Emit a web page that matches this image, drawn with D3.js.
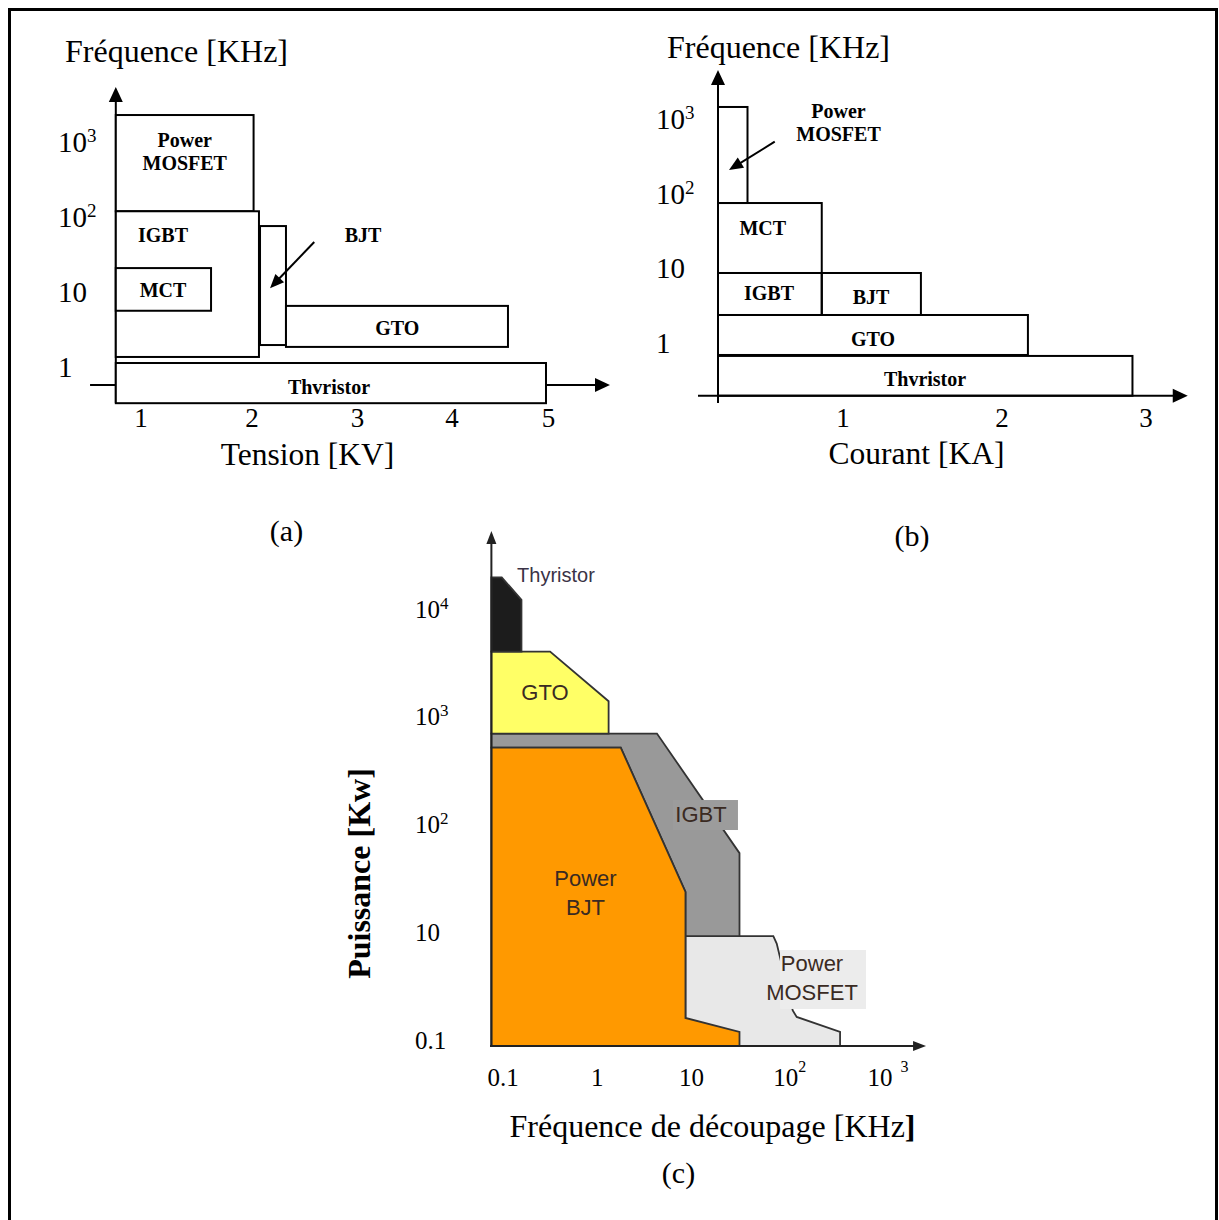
<!DOCTYPE html>
<html><head><meta charset="utf-8">
<script src="https://cdn.jsdelivr.net/npm/d3@7"></script>
<style>body{margin:0;background:#fff}svg{display:block}</style>
</head><body>
<script>
// ================= DATA =================
// (a) Fréquence [KHz] vs Tension [KV]
const aDevices      = ["Power MOSFET","IGBT","MCT","BJT","GTO","Thvristor"];
const aTensionMin   = [0.773,0.773,0.773,2.076,2.322,0.773];
const aTensionMax   = [2.015,2.066,1.631,2.322,4.58,4.974];
const aFreqMin      = [118,1.36,5.6,1.96,1.85,0.33];
const aFreqMax      = [2250,118,20.7,75,6.5,1.13];
const aLabelTension = [1.394,1.198,1.198,3.059,3.42,2.73];
const aLabelFreq    = [736,57,10.6,57,3.3,0.54];
const aXTicks       = [1,2,3,4,5];
const aYTicks       = [1,10,100,1000];
const aYTickLabels  = [["1",""],["10",""],["10","2"],["10","3"]];
const aArrow        = {from:[2.59,46], to:[2.171,11.2]};   // BJT pointer (tension, freq)

// (b) Fréquence [KHz] vs Courant [KA]
const bDevices      = ["Power MOSFET","MCT","IGBT","BJT","GTO","Thvristor"];
const bCourantMin   = [0,0,0,0.83,0,0];
const bCourantMax   = [0.236,0.83,0.83,1.49,2.18,2.906];
const bFreqMin      = [74.5,8.57,2.34,2.34,0.68,0.193];
const bFreqMax      = [1450,74.5,8.57,8.57,2.34,0.66];
const bLabelCourant = [0.964,0.358,0.408,1.176,1.189,1.516];
const bLabelFreq    = [898,34.4,4.62,4.08,1.11,0.324];
const bXTicks       = [1,2,3];
const bYTicks       = [1,10,100,1000];
const bYTickLabels  = [["1",""],["10",""],["10","2"],["10","3"]];
const bArrow        = {from:[0.454,496], to:[0.088,207]};  // MOSFET pointer (courant, freq)

// (c) Puissance [Kw] (label levels) vs Fréquence de découpage [KHz]
const cDevices = ["Power MOSFET","IGBT","Power BJT","GTO","Thyristor"];
const cFreq = [
  [8.63,73.8,80.2,118.6,130.7,377,377,8.63],
  [0.0753,4.30,32.3,32.3,8.63,8.63,1.775,0.0753],
  [0.0753,1.775,8.63,8.63,32.3,32.3,0.0753],
  [0.0753,0.316,1.32,1.32,0.0753],
  [0.0753,0.097,0.157,0.157,0.0753]
];
const cLevel = [
  [1.02,1.02,0.95,0.33,0.27,0.13,0,0],
  [2.90,2.90,1.79,1.02,1.02,1.43,2.77,2.77],
  [2.77,2.77,1.43,0.26,0.13,0,0],
  [3.66,3.66,3.20,2.90,2.90],
  [4.35,4.35,4.14,3.66,3.66]
];
const cLabelFreq  = [190,12.6,0.75,0.279,0.141];
const cLabelLevel = [0.636,2.153,1.42,3.285,4.37];
const cXTicks      = [0.1,1,10,100,1000];
const cXTickLabels = [["0.1",""],["1",""],["10",""],["10","2"],["10","\u00a0\u00a03"]];
const cYLevels     = [0,1,2,3,4];
const cYTickLabels = [["0.1",""],["10",""],["10","2"],["10","3"],["10","4"]];

// ================= STYLE =================
const serif = "'Liberation Serif','Times New Roman',Times,serif";
const sans  = "'Liberation Sans',Arial,Helvetica,sans-serif";
const cFill = {"Thyristor":"#1c1c1c","GTO":"#ffff66","IGBT":"#999999","Power BJT":"#ff9900","Power MOSFET":"#e8e8e8"};

const svg = d3.select("body").append("svg").attr("width",1219).attr("height",1220);
svg.append("rect").attr("width",1219).attr("height",1220).attr("fill","#fff");
svg.append("rect").attr("x",9.5).attr("y",9.5).attr("width",1207).attr("height",1240)
  .attr("fill","none").attr("stroke","#000").attr("stroke-width",3);

function arrowHead(g,x1,y1,x2,y2,len,hw,color){
  const dx=x2-x1, dy=y2-y1, L=Math.hypot(dx,dy), ux=dx/L, uy=dy/L;
  const bx=x2-ux*len, by=y2-uy*len;
  g.append("path").attr("d",`M${x2},${y2}L${bx-uy*hw},${by+ux*hw}L${bx+uy*hw},${by-ux*hw}Z`)
    .attr("fill",color||"#000");
}
function arrowLine(g,x1,y1,x2,y2,len,hw,w,color){
  const dx=x2-x1, dy=y2-y1, L=Math.hypot(dx,dy);
  g.append("line").attr("x1",x1).attr("y1",y1)
    .attr("x2",x2-dx/L*(len*0.8)).attr("y2",y2-dy/L*(len*0.8))
    .attr("stroke",color||"#000").attr("stroke-width",w);
  arrowHead(g,x1,y1,x2,y2,len,hw,color);
}
function supLabel(g,x,y,base,sup,size,supSize,supDy,anchor,family){
  const t=g.append("text").attr("y",y).attr("font-family",family||serif).attr("font-size",size).attr("fill","#000");
  const b=t.append("tspan").text(base);
  if(sup) t.append("tspan").attr("font-size",supSize).attr("dy",supDy).text(sup);
  if(anchor==="start") t.attr("x",x);
  else { const w=b.node().getComputedTextLength(); t.attr("x",x-w/2); }
  return t;
}
function multiLabel(g,x,cy,lines,size,lh,opts){
  const n=lines.length;
  const t=g.append("text").attr("font-family",opts.family).attr("font-size",size)
    .attr("font-weight",opts.weight||"normal").attr("fill",opts.fill||"#000")
    .attr("text-anchor",opts.anchor||"middle");
  lines.forEach((s,i)=>{
    t.append("tspan").attr("x",x).attr("y",cy+(i-(n-1)/2)*lh+size*0.35).text(s);
  });
  return t;
}
function splitName(n){ return n.startsWith("Power ") ? ["Power", n.slice(6)] : [n]; }

// ================= (a) =================
{
  const g=svg.append("g");
  const x=d3.scaleLinear().domain([1,2,3,4,5]).range([141,252,357.5,452,548.5]);
  const y=d3.scaleLog().domain([1,1000]).range([367,141.5]);
  const axisF=0.576, axisV=0.773;
  arrowLine(g,x(0.541),y(axisF),x(5.637),y(axisF),15,7,2);
  arrowLine(g,x(axisV),y(0.332),x(axisV),y(5310),15,7,2);
  g.selectAll("rect.dev").data(aDevices).join("rect").attr("class","dev")
    .attr("x",(d,i)=>x(aTensionMin[i])).attr("y",(d,i)=>y(aFreqMax[i]))
    .attr("width",(d,i)=>x(aTensionMax[i])-x(aTensionMin[i]))
    .attr("height",(d,i)=>y(aFreqMin[i])-y(aFreqMax[i]))
    .attr("fill","#fff").attr("stroke","#000").attr("stroke-width",2);
  aDevices.forEach((d,i)=>multiLabel(g,x(aLabelTension[i]),y(aLabelFreq[i]),splitName(d),20,23,{family:serif,weight:"bold"}));
  arrowLine(g,x(aArrow.from[0]),y(aArrow.from[1]),x(aArrow.to[0]),y(aArrow.to[1]),14,6,2);
  aXTicks.forEach(v=>g.append("text").attr("x",x(v)).attr("y",y(axisF)+42).attr("text-anchor","middle")
    .attr("font-family",serif).attr("font-size",27).text(v));
  aYTicks.forEach((v,i)=>supLabel(g,58,y(v)+10,aYTickLabels[i][0],aYTickLabels[i][1],29,19,-10,"start"));
  g.append("text").attr("x",65).attr("y",62).attr("font-family",serif).attr("font-size",32).text("Fréquence [KHz]");
  g.append("text").attr("x",307.5).attr("y",465).attr("text-anchor","middle").attr("font-family",serif).attr("font-size",31.5).text("Tension [KV]");
  g.append("text").attr("x",286.5).attr("y",541).attr("text-anchor","middle").attr("font-family",serif).attr("font-size",30).text("(a)");
}

// ================= (b) =================
{
  const g=svg.append("g");
  const x=d3.scaleLinear().domain([0,1,2,3]).range([718,843,1002,1146]);
  const y=d3.scaleLog().domain([1,1000]).range([342.5,119]);
  const axisF=0.193;
  arrowLine(g,x(-0.16),y(axisF),x(3.29),y(axisF),15,7,2);
  arrowLine(g,x(0),y(0.154),x(0),y(4550),15,7,2);
  g.selectAll("rect.dev").data(bDevices).join("rect").attr("class","dev")
    .attr("x",(d,i)=>x(bCourantMin[i])).attr("y",(d,i)=>y(bFreqMax[i]))
    .attr("width",(d,i)=>x(bCourantMax[i])-x(bCourantMin[i]))
    .attr("height",(d,i)=>y(bFreqMin[i])-y(bFreqMax[i]))
    .attr("fill","none").attr("stroke","#000").attr("stroke-width",2);
  bDevices.forEach((d,i)=>multiLabel(g,x(bLabelCourant[i]),y(bLabelFreq[i]),splitName(d),20,23,{family:serif,weight:"bold"}));
  arrowLine(g,x(bArrow.from[0]),y(bArrow.from[1]),x(bArrow.to[0]),y(bArrow.to[1]),14,6,2);
  bXTicks.forEach(v=>g.append("text").attr("x",x(v)).attr("y",y(axisF)+31).attr("text-anchor","middle")
    .attr("font-family",serif).attr("font-size",27).text(v));
  bYTicks.forEach((v,i)=>supLabel(g,656,y(v)+10,bYTickLabels[i][0],bYTickLabels[i][1],29,19,-10,"start"));
  g.append("text").attr("x",667).attr("y",58).attr("font-family",serif).attr("font-size",32).text("Fréquence [KHz]");
  g.append("text").attr("x",916.5).attr("y",464).attr("text-anchor","middle").attr("font-family",serif).attr("font-size",31.5).text("Courant [KA]");
  g.append("text").attr("x",912).attr("y",546).attr("text-anchor","middle").attr("font-family",serif).attr("font-size",30).text("(b)");
}

// ================= (c) =================
{
  const g=svg.append("g");
  const x=d3.scaleLog().domain([0.1,1000]).range([503,880]);
  const y=d3.scaleLinear().domain([0,4]).range([1046,615]);
  const line=d3.line();
  cDevices.forEach((d,i)=>{
    const pts=cFreq[i].map((f,j)=>[x(f),y(cLevel[i][j])]);
    g.append("path").attr("d",line(pts)+"Z").attr("fill",cFill[d])
      .attr("stroke","#333").attr("stroke-width",1.8).attr("stroke-linejoin","miter");
  });
  arrowLine(g,x(0.0728),y(0),x(3080),y(0),13,5,2,"#222");
  arrowLine(g,x(0.0753),y(0),x(0.0753),y(4.78),13,5,2,"#222");
  const iI=cDevices.indexOf("IGBT"), iM=cDevices.indexOf("Power MOSFET");
  const ix=x(cLabelFreq[iI]), iy=y(cLabelLevel[iI]);
  g.append("rect").attr("x",ix-28).attr("y",iy-14).attr("width",65).attr("height",30).attr("fill","#9c9c9c");
  const mx=x(cLabelFreq[iM]), my=y(cLabelLevel[iM]);
  g.append("rect").attr("x",mx-32).attr("y",my-27.5).attr("width",86).attr("height",59).attr("fill","#ececec");
  cDevices.forEach((d,i)=>{
    const isT=d==="Thyristor";
    const lines=d==="IGBT"||d==="GTO"||isT?[d]:splitName(d);
    multiLabel(g,x(cLabelFreq[i]),y(cLabelLevel[i]),lines,isT?20:22,isT?0:29,
      {family:sans,fill:isT?"#3a3346":"#3a2a22",anchor:isT?"start":"middle"});
  });
  cXTicks.forEach((v,i)=>supLabel(g,x(v),1085.5,cXTickLabels[i][0],cXTickLabels[i][1],25,16,-14,"middle"));
  cYLevels.forEach((v,i)=>supLabel(g,415,y(v)-6+8.5,cYTickLabels[i][0],cYTickLabels[i][1],25,17,-9,"start"));
  g.append("text").attr("transform","translate(370,873.5) rotate(-90)").attr("text-anchor","middle")
    .attr("font-family",serif).attr("font-size",32).attr("font-weight","bold").text("Puissance [Kw]");
  const t=g.append("text").attr("x",712.5).attr("y",1137).attr("text-anchor","middle").attr("font-family",serif).attr("font-size",32);
  t.append("tspan").text("Fréquence de découpage [KHz");
  t.append("tspan").attr("font-weight","bold").text("]");
  g.append("text").attr("x",678.5).attr("y",1183).attr("text-anchor","middle").attr("font-family",serif).attr("font-size",30).text("(c)");
}
</script>
</body></html>
